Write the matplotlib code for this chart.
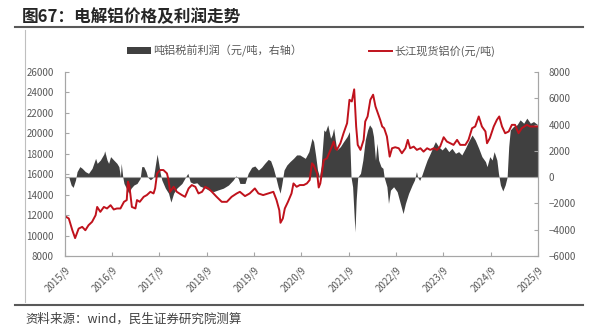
import matplotlib
matplotlib.use("Agg")
import matplotlib.pyplot as plt
from matplotlib.patches import Patch
from matplotlib.lines import Line2D

plt.rcParams['font.family'] = ['Noto Sans CJK SC', 'DejaVu Sans']

# months since 2015/9, price (元/吨)
price_m = [0, 1, 1.9, 2.6, 3.5, 4.4, 5.2, 6, 6.9, 7.8, 8.2, 9, 9.9, 10.7, 11.6, 12.4,
           13.2, 14.1, 15, 15.7, 16, 16.3, 16.6, 17, 17.9, 18.3, 19, 20, 20.8, 21.7,
           22.5, 22.9, 23.4, 24.2, 25, 25.9, 26.3, 26.7, 27.6, 28.4, 29.7, 30.5, 31.4,
           32.2, 33.1, 33.9, 34.8, 35.6, 36.4, 37.3, 38.5, 39.8, 41.1, 42.3, 43.6, 44.4,
           45.7, 46.9, 48.2, 49.1, 50.3, 51.6, 52.9, 53.7, 54.4, 54.7, 55.3, 55.8, 56.6,
           57.5, 58, 58.8, 59.6, 60.6, 61.4, 62.1, 62.7, 63.1, 64, 64.4, 64.8, 65.7,
           66.5, 67.4, 68.2, 68.6, 69, 69.9, 70.7, 71.6, 72.2, 72.8, 73.4, 73.9, 74.3,
           75, 75.8, 76.2, 76.8, 77.5, 78.2, 78.8, 79.4, 80, 80.5, 81, 81.7, 82.4, 83,
           83.8, 84.7, 85.5, 86.4, 87, 87.6, 88.5, 89.3, 90.2, 91, 91.9, 92.7, 93.6,
           94.4, 95.2, 96.1, 96.9, 97.8, 98.6, 99.5, 100.3, 101.6, 102.4, 103.3, 104.1,
           105, 105.8, 106.7, 107.1, 107.8, 108.8, 109.6, 110.2, 110.9, 111.7, 112.6,
           113.4, 114.2, 115.1, 115.9, 117.2, 118, 118.9, 120]
price = [11900, 11670, 10520, 9750, 10680, 10850, 10520, 11010, 11340, 11990, 12800,
         12320, 12800, 12650, 12970, 12550, 12650, 12650, 13300, 13470, 15270, 14940,
         14120, 12800, 12650, 13470, 13300, 13790, 13960, 14280, 14120, 14610, 16080,
         16410, 16410, 16080, 15430, 14280, 14770, 14280, 13960, 13790, 14610, 14940,
         14770, 14120, 14280, 14770, 14610, 14280, 13790, 13300, 13300, 13790, 14120,
         14280, 13860, 14120, 14610, 14120, 13960, 14120, 14280, 13470, 12480, 11250,
         11670, 12650, 13300, 14120, 15100, 14770, 14940, 14940, 15100, 15430, 17070,
         16900, 16080, 14700, 15100, 17390, 17560, 18380, 19200, 18540, 18380, 19030,
         20010, 20990, 23280, 23120, 24300, 20670, 18870, 18380, 19360, 21160, 21650,
         23280, 23780, 22630, 21980, 21320, 20670, 20500, 19690, 17720, 18540, 18640,
         18540, 18050, 18540, 19360, 18540, 18700, 18380, 18540, 18210, 18540, 18380,
         18540, 18380, 18700, 19620, 19200, 19030, 18870, 19360, 18870, 18870, 19360,
         20500, 20670, 21650, 20670, 20180, 19030, 19520, 20670, 21320, 21650, 20670,
         20010, 20180, 20830, 20830, 20010, 20500, 20830, 20670, 20670, 20670]

# months since 2015/9, pre-tax profit per ton (元/吨)
profit_m = [0, 1, 1.6, 2.1, 2.7, 3.1, 3.8, 4.4, 5.2, 6, 6.9, 7.8, 8.2, 9, 9.9, 10.1,
            10.7, 11.1, 11.6, 12.4, 13.2, 13.7, 14.1, 14.3, 14.7, 15, 15.6, 16.2, 16.8,
            17.5, 18.3, 19.1, 19.5, 20, 20.6, 21, 21.7, 22.5, 22.9, 23.4, 23.8, 24.2,
            24.6, 25.5, 26.3, 26.9, 27.6, 28.4, 29.7, 30.9, 31.2, 31.8, 32.6, 33.5,
            34.3, 35.6, 36.4, 37.7, 38.9, 40.2, 41.5, 42.7, 43.4, 44, 44.4, 45.7, 46.5,
            47.4, 48.2, 49.1, 49.9, 50.7, 51.6, 52.2, 52.9, 53.5, 54.1, 54.6, 55, 55.6,
            56.3, 57.1, 58, 58.8, 59.6, 61, 61.9, 62.7, 63.1, 63.6, 64.1, 64.6, 65,
            65.7, 66.1, 66.7, 67.4, 67.8, 68.2, 68.6, 69, 69.9, 70.7, 71.6, 72.2, 72.6,
            73, 73.4, 73.6, 73.9, 74.3, 75, 75.6, 76.2, 76.8, 77.3, 77.9, 78.3, 78.8,
            79.2, 79.6, 80.2, 80.7, 81, 81.7, 82.1, 82.6, 83.4, 84.3, 85.1, 85.8, 86.4,
            87.2, 88.1, 88.7, 89.2, 89.5, 90, 90.6, 91.3, 91.9, 92.7, 93.6, 94, 94.8,
            95.7, 96.5, 97.4, 98.2, 99.1, 99.9, 100.7, 101.6, 102.4, 103.3, 104.1, 105,
            105.8, 106.7, 107.1, 107.8, 108.4, 108.9, 109.6, 110, 110.5, 111.1, 111.7,
            112.2, 112.6, 113, 113.8, 114.7, 115.5, 116.4, 117.2, 118.1, 118.9, 120]
profit = [-50, 0, -600, -780, -220, 420, 800, 670, 420, 290, 670, 1430, 1050, 1300,
          1760, 2000, 1300, 1050, 1560, 1300, 1050, 800, 30, 1050, 0, -480, -840, -1220,
          -840, -600, -480, -100, 800, 800, 420, 0, -200, 0, 800, 1750, 1050, 290, -220,
          -840, -1220, -1900, -1220, -840, -480, 150, 290, -360, -480, -430, -690, -840,
          -970, -1100, -970, -840, -600, -220, 100, -100, -480, -480, 290, 750, 850, 540,
          750, 1050, 1350, 1250, 670, 0, -740, -1220, -600, 540, 920, 1180, 1430, 1690,
          1690, 1430, 1940, 2960, 2700, 1690, 540, 30, 800, 3590, 3470, 3980, 2960, 3210,
          3720, 2830, 2070, 2320, 2700, 3090, 3470, 0, -730, -3020, -4170, -1750, 0, 290,
          1300, 2830, 3590, 3980, 3720, 3090, 1300, 2580, 1300, 800, 670, 0, -730, -2000,
          -990, -730, -1110, -2000, -2770, -2000, -1240, -600, -220, 420, 0, -250, 180,
          800, 1300, 1810, 2450, 2700, 2320, 2070, 2320, 1940, 2190, 1810, 1940, 1690,
          2190, 2700, 3210, 2830, 2190, 1560, 1180, 800, 1560, 1300, 1940, 1300, 290,
          -600, -1050, -600, 0, 2320, 3590, 3850, 3980, 4360, 4100, 4490, 4100, 4230, 3980]

tick_m = list(range(0, 121, 12))
tick_labels = ['2015/9', '2016/9', '2017/9', '2018/9', '2019/9', '2020/9',
               '2021/9', '2022/9', '2023/9', '2024/9', '2025/9']

red = '#C0121C'
gray_area = '#404040'
txt = '#595959'
spine = '#A6A6A6'

fig = plt.figure(figsize=(5.95, 3.28), dpi=100)
ax = fig.add_axes([0.109, 0.2195, 0.795, 0.561])
ax2 = ax.twinx()

# profit area on right axis, behind the price line
ax2.fill_between(profit_m, 0, profit, color=gray_area, linewidth=0)
ax2.axhline(0, color='#A6A6A6', linewidth=0.8)
ax2.set_ylim(-6000, 8000)
ax2.set_yticks(range(-6000, 8001, 2000))

ax.plot(price_m, price, color=red, linewidth=1.4)
ax.set_ylim(8000, 26000)
ax.set_yticks(range(8000, 26001, 2000))
ax.set_xlim(0, 120)
ax.set_xticks(tick_m)
ax.set_xticklabels(tick_labels, rotation=45, ha='right', rotation_mode='anchor')

ax.set_zorder(ax2.get_zorder() + 1)
ax.patch.set_visible(False)

for a in (ax, ax2):
    for s in a.spines.values():
        s.set_color(spine)
        s.set_linewidth(0.8)
    a.spines['top'].set_visible(False)
ax.tick_params(axis='y', direction='in', length=3, color=spine, labelsize=7, labelcolor=txt, pad=8)
ax.tick_params(axis='x', direction='in', length=3, color=spine, labelsize=7, labelcolor=txt, pad=6)
ax2.tick_params(axis='y', direction='in', length=3, color=spine, labelsize=7, labelcolor=txt, pad=8)

handles = [Patch(facecolor=gray_area, edgecolor='none'),
           Line2D([0], [0], color=red, linewidth=1.4)]
labels = ['吨铝税前利润（元/吨，右轴）', '长江现货铝价(元/吨)']
fig.legend(handles, labels, loc='center', bbox_to_anchor=(0.523, 0.845), ncol=2,
           frameon=False, fontsize=8, labelcolor=txt, handlelength=2.1,
           handleheight=0.55, handletextpad=0.2, columnspacing=6.0)

# title, frame lines and source
fig.text(0.037, 0.948, '图67：电解铝价格及利润走势', fontsize=12, fontweight='bold',
         color='#262626', va='center', ha='left')
fig.add_artist(Line2D([0.025, 0.98], [0.918, 0.918], color='#595959', linewidth=1.5))
fig.add_artist(Line2D([0.042, 0.042], [0.08, 0.91], color='#BFBFBF', linewidth=0.8))
fig.add_artist(Line2D([0.025, 0.98], [0.07, 0.07], color='#595959', linewidth=1.5))
fig.text(0.042, 0.027, '资料来源：wind，民生证券研究院测算', fontsize=9, color='#404040',
         va='center', ha='left')

fig.savefig('out.png', dpi=100)
